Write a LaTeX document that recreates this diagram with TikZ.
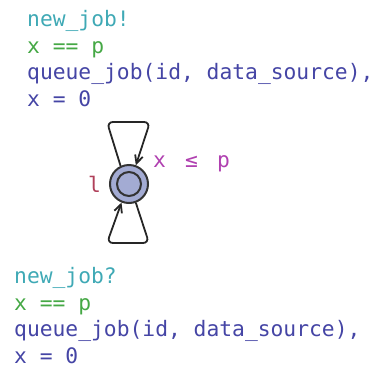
\documentclass[tikz,border=0pt]{standalone}
\usepackage{fontspec}
\setmonofont{DejaVu Sans Mono}
\usetikzlibrary{arrows.meta}
\definecolor{synccol}{HTML}{3FA9B5}
\definecolor{guardcol}{HTML}{45A845}
\definecolor{updcol}{HTML}{4545A5}
\definecolor{namecol}{HTML}{B0405A}
\definecolor{invcol}{HTML}{B040B0}
\definecolor{locfill}{HTML}{A3ABD3}
\tikzset{
  lbl/.style={anchor=base west, inner sep=0pt, font=\ttfamily\fontsize{21.3}{26}\selectfont},
  loc/.style={circle, draw=black!80, line width=2pt, fill=locfill, minimum size=38pt, inner sep=0pt,
    path picture={\draw[black!80, line width=2pt] (path picture bounding box.center) circle (12pt);}},
  edge/.style={draw=black!85, line width=1.8pt, rounded corners=6pt, -{Straight Barb[length=8pt,width=8pt]}}
}
\begin{document}
\begin{tikzpicture}[x=1pt,y=1pt]
    \useasboundingbox (0,0) rectangle (379,368);
    % Ubicacion l
    \node[loc] (l) at (129,184) {};
    \node[lbl, text=namecol] (name) at (88,176) {l};
    \node[lbl, text=invcol] (inv) at (153,201) {x\hspace{0.9em}≤\hspace{0.9em}p};
    % Bucle superior
    \coordinate (t1) at (107,246);
    \coordinate (t2) at (150,246);
    \draw[edge] (l.115) -- (t1) -- (t2) -- (l.70);
    % Bucle inferior
    \coordinate (b1) at (149,125);
    \coordinate (b2) at (107,125);
    \draw[edge] (l.-70) -- (b1) -- (b2) -- (l.-112);
    % Etiquetas de arriba
    \node[lbl, text=synccol] (synctop) at (27,342) {new\_job!};
    \node[lbl, text=guardcol] (guardtop) at (27,315) {x == p};
    \node[lbl, text=updcol] (updtop) at (27,289) {queue\_job(id, data\_source),};
    \node[lbl, text=updcol] (updtop2) at (27,262) {x = 0};
    % Etiquetas de abajo
    \node[lbl, text=synccol] (syncbot) at (14,85) {new\_job?};
    \node[lbl, text=guardcol] (guardbot) at (14,58) {x == p};
    \node[lbl, text=updcol] (updbot) at (14,32) {queue\_job(id, data\_source),};
    \node[lbl, text=updcol] (updbot2) at (14,5) {x = 0};
\end{tikzpicture}
\end{document}
